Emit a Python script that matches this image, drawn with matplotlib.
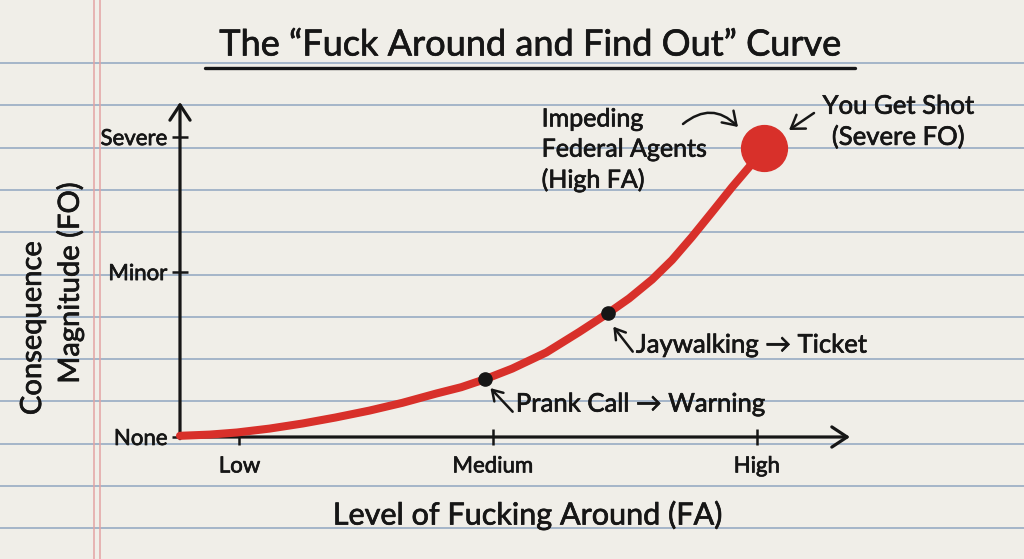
import matplotlib.pyplot as plt
import matplotlib.patheffects as pe
import numpy as np

plt.rcParams['font.family'] = ['Lato', 'DejaVu Sans']

# FA level: Low=1, Medium=2, High=3 ; consequence: None=0, Minor=5.5, Severe=10
curve_x = [0.77, 0.885, 0.99, 1.116, 1.244, 1.371, 1.502, 1.63, 1.761, 1.857, 1.95,
           2.054, 2.186, 2.313, 2.425, 2.506, 2.595, 2.672, 2.749, 2.827, 2.904, 2.97, 3.027]
curve_y = [0.04, 0.08, 0.15, 0.28, 0.45, 0.65, 0.88, 1.14, 1.45, 1.66, 1.93,
           2.28, 2.82, 3.50, 4.13, 4.62, 5.25, 5.90, 6.67, 7.50, 8.33, 9.00, 9.63]

fa_ticks = [1.0, 1.98, 3.0]
fa_labels = ['Low', 'Medium', 'High']
fo_ticks = [0, 5.5, 10]
fo_labels = ['None', 'Minor', 'Severe']

prank = (1.95, 1.93)
jaywalk = (2.425, 4.13)
shot = (3.027, 9.63)

ink = '#161616'
red = '#d8302a'
paper = '#f0eee8'
bold = [pe.withStroke(linewidth=0.5, foreground=ink)]

fig = plt.figure(figsize=(10.24, 5.59), dpi=100)
fig.patch.set_facecolor(paper)

# notebook paper, in pixel coordinates
bg = fig.add_axes([0, 0, 1, 1])
bg.set_xlim(0, 1024)
bg.set_ylim(559, 0)
bg.axis('off')
for yy in np.arange(63, 559, 42.3):
    bg.axhline(yy, color='#9fb1c6', lw=1.3, zorder=0)
for xx in [94, 99.5]:
    bg.axvline(xx, color='#e3a3a3', lw=1.1, zorder=0)

bg.text(530, 45, 'The \u201cFuck Around and Find Out\u201d Curve', fontsize=26,
        color=ink, ha='center', va='center', path_effects=bold)
bg.plot([205, 855], [68, 68], color=ink, lw=2.4, solid_capstyle='round')
bg.text(527, 515, 'Level of Fucking Around (FA)', fontsize=22, color=ink,
        ha='center', va='center', path_effects=bold)
bg.text(33, 328, 'Consequence', fontsize=21, color=ink, rotation=90,
        ha='center', va='center', path_effects=bold)
bg.text(70, 283, 'Magnitude (FO)', fontsize=21, color=ink, rotation=90,
        ha='center', va='center', path_effects=bold)

# the chart itself
ax = fig.add_axes([180 / 1024, 122 / 559, 670 / 1024, 335 / 559])
ax.patch.set_alpha(0)
ax.set_xlim(0.77, 3.36)
ax.set_ylim(0, 11.17)
for s in ax.spines.values():
    s.set_visible(False)

arrow = dict(arrowstyle='->,head_length=0.5,head_width=0.33', lw=2.3, color=ink,
             mutation_scale=22, shrinkA=0, shrinkB=0)
ax.annotate('', xy=(1, 0), xytext=(-0.003, 0), xycoords='axes fraction', arrowprops=arrow)
ax.annotate('', xy=(0, 1), xytext=(0, -0.005), xycoords='axes fraction', arrowprops=arrow)

ax.set_xticks(fa_ticks)
ax.set_xticklabels(fa_labels)
ax.set_yticks(fo_ticks)
ax.set_yticklabels(fo_labels)
ax.tick_params(direction='inout', length=12, width=1.8, color=ink, labelcolor=ink,
               labelsize=16, pad=3)
ax.tick_params(axis='x', pad=8)
for lab in ax.get_xticklabels() + ax.get_yticklabels():
    lab.set_path_effects(bold)

ax.plot(curve_x, curve_y, color=red, lw=5.8, solid_capstyle='round',
        solid_joinstyle='round', zorder=3, clip_on=False)
ax.plot(*shot, 'o', color=red, ms=33, zorder=4, clip_on=False)
ax.plot([prank[0], jaywalk[0]], [prank[1], jaywalk[1]], 'o', color=ink, ms=9.5, zorder=5)

small = dict(arrowstyle='->,head_length=0.4,head_width=0.25', lw=1.8, color=ink,
             mutation_scale=18, shrinkA=0, shrinkB=0)
ax.annotate('', xy=(prank[0] + 0.02, prank[1] - 0.3), xytext=(16, -17),
            textcoords='offset points', arrowprops=small)
ax.annotate('', xy=(jaywalk[0] + 0.02, jaywalk[1] - 0.45), xytext=(14, -18),
            textcoords='offset points', arrowprops=small)
ax.annotate('Prank Call \u2192 Warning', xy=prank, xytext=(22, -18), textcoords='offset points',
            fontsize=18.5, color=ink, ha='left', va='center', path_effects=bold)
ax.annotate('Jaywalking \u2192 Ticket', xy=jaywalk, xytext=(20, -23), textcoords='offset points',
            fontsize=18.5, color=ink, ha='left', va='center', path_effects=bold)

ax.annotate('Impeding\nFederal Agents\n(High FA)', xy=shot, xytext=(-160, -1),
            textcoords='offset points', fontsize=18, color=ink, ha='left', va='center',
            linespacing=1.38, annotation_clip=False, path_effects=bold)
ax.annotate('You Get Shot\n(Severe FO)', xy=shot, xytext=(97, 19), textcoords='offset points',
            fontsize=18.5, color=ink, ha='center', va='center', linespacing=1.3,
            annotation_clip=False, path_effects=bold)

# arrows pointing at the big dot (drawn in pixel space on the background)
head = dict(arrowstyle='->,head_length=0.45,head_width=0.3', lw=1.8, color=ink,
            mutation_scale=20, shrinkA=0, shrinkB=0)
bg.annotate('', xy=(738, 127), xytext=(683, 124),
            arrowprops=dict(head, connectionstyle='arc3,rad=-0.45'))
bg.annotate('', xy=(789, 130), xytext=(814, 113), arrowprops=head)

fig.savefig('out.png', dpi=100, facecolor=paper)
